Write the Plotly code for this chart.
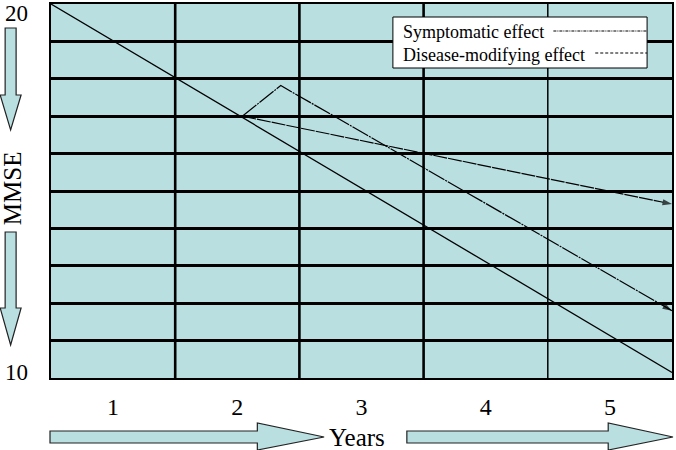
import plotly.graph_objects as go

# ---- data ----
decline_x = [0.5, 5.5]
decline_y = [20, 10.15]
symptomatic_x = [2.04, 2.35, 5.5]
symptomatic_y = [17.0, 17.82, 11.8]
modifying_x = [2.04, 3.5, 4.5, 5.5]
modifying_y = [17.0, 16.0, 15.33, 14.65]
x_tick_vals = [1, 2, 3, 4, 5]
x_tick_text = ["1", "2", "3", "4", "5"]
y_tick_vals = [10, 20]
y_tick_text = ["10", "20"]
x_dividers = [1.5, 2.5, 3.5, 4.5]
legend_labels = ["Symptomatic effect", "Disease-modifying effect"]

W, H = 676, 450
L, R, T, B = 51, 674, 4, 378
BG = "#B9DFE1"
FONT = "Liberation Serif"


def px(x):
    return (x - L) / (R - L)


def py(y):
    return (B - y) / (B - T)


def path(points):
    s = "M " + " L ".join(f"{px(x):.5f},{py(y):.5f}" for x, y in points) + " Z"
    return s


fig = go.Figure()

fig.add_trace(go.Scatter(x=decline_x, y=decline_y, mode="lines",
                         line=dict(color="black", width=1.3), showlegend=False))
fig.add_trace(go.Scatter(x=symptomatic_x, y=symptomatic_y, mode="lines+markers",
                         line=dict(color="black", width=1.2, dash="18px,1px,2px,1px"),
                         marker=dict(symbol="arrow", angleref="previous",
                                     size=[0] * (len(symptomatic_x) - 1) + [10],
                                     color="black", line=dict(width=0)),
                         showlegend=False))
fig.add_trace(go.Scatter(x=modifying_x, y=modifying_y, mode="lines+markers",
                         line=dict(color="black", width=1.2, dash="14px,1px"),
                         marker=dict(symbol="arrow", angleref="previous",
                                     size=[0] * (len(modifying_x) - 1) + [10],
                                     color="black", line=dict(width=0)),
                         showlegend=False))

shapes = []
# vertical dividers
for i, xv in enumerate(x_dividers):
    shapes.append(dict(type="line", xref="x", yref="paper", x0=xv, x1=xv, y0=0, y1=1,
                       line=dict(color="black", width=1.5 if xv == 4.5 else 2.6),
                       layer="below"))
# legend box
shapes.append(dict(type="rect", xref="paper", yref="paper",
                   x0=px(394), x1=px(649), y0=py(68), y1=py(17),
                   fillcolor="white", line=dict(color="black", width=1), layer="above"))
shapes.append(dict(type="line", xref="paper", yref="paper",
                   x0=px(555), x1=px(649), y0=py(31), y1=py(31),
                   line=dict(color="black", width=1, dash="3px,1px,1px,1px"), layer="above"))
shapes.append(dict(type="line", xref="paper", yref="paper",
                   x0=px(597), x1=px(649), y0=py(53), y1=py(53),
                   line=dict(color="black", width=1, dash="3px,2px"), layer="above"))

# block arrows
arrow_style = dict(type="path", xref="paper", yref="paper", fillcolor=BG,
                   line=dict(color="#222222", width=1.2), layer="above")
shapes.append(dict(path=path([(5, 28), (16, 28), (16, 95), (21, 95), (10.5, 130), (0, 95), (5, 95)]), **arrow_style))
shapes.append(dict(path=path([(5, 232), (16, 232), (16, 308), (21, 308), (10.5, 345), (0, 308), (5, 308)]), **arrow_style))
shapes.append(dict(path=path([(50, 431), (258, 431), (258, 423), (325, 437), (258, 450), (258, 443), (50, 443)]), **arrow_style))
shapes.append(dict(path=path([(408, 431), (610, 431), (610, 423), (675, 437), (610, 450), (610, 443), (408, 443)]), **arrow_style))

annotations = [
    dict(text=legend_labels[0], xref="paper", yref="paper", x=px(402), y=py(32),
         xanchor="left", yanchor="middle", showarrow=False,
         font=dict(family=FONT, size=18, color="black")),
    dict(text=legend_labels[1], xref="paper", yref="paper", x=px(402), y=py(55),
         xanchor="left", yanchor="middle", showarrow=False,
         font=dict(family=FONT, size=18, color="black")),
    dict(text="MMSE", xref="paper", yref="paper", x=px(12), y=py(188),
         xanchor="center", yanchor="middle", textangle=-90, showarrow=False,
         font=dict(family=FONT, size=25, color="black")),
    dict(text="Years", xref="paper", yref="paper", x=px(358), y=py(437),
         xanchor="center", yanchor="middle", showarrow=False,
         font=dict(family=FONT, size=25, color="black")),
]
for v, t in zip(y_tick_vals, y_tick_text):
    annotations.append(dict(text=t, xref="paper", yref="y", x=px(16), y=v,
                            xanchor="center", yanchor="middle", showarrow=False,
                            yshift=-9 if v == 20 else 6,
                            font=dict(family=FONT, size=23, color="black")))

fig.update_layout(
    width=W, height=H,
    margin=dict(l=L, r=W - R, t=T, b=H - B, pad=0),
    paper_bgcolor="white", plot_bgcolor=BG,
    shapes=shapes, annotations=annotations,
    font=dict(family=FONT, size=24, color="black"),
    xaxis=dict(range=[0.5, 5.5], tickmode="array", tickvals=x_tick_vals, ticktext=x_tick_text,
               showgrid=False, zeroline=False, ticks="", showline=True, mirror=True,
               linecolor="black", linewidth=1.5, ticklabelstandoff=6,
               tickfont=dict(family=FONT, size=24, color="black")),
    yaxis=dict(range=[10, 20], tickmode="array", tickvals=y_tick_vals, showticklabels=False,
               showgrid=False, zeroline=False, ticks="", showline=True, mirror=True,
               linecolor="black", linewidth=1.5,
               minor=dict(dtick=1, tick0=10, showgrid=True, gridcolor="black", gridwidth=2.6)),
)

fig.write_html("out.html", config={"displayModeBar": False},
               post_script="document.body.style.margin='0';document.body.style.overflow='hidden';")
